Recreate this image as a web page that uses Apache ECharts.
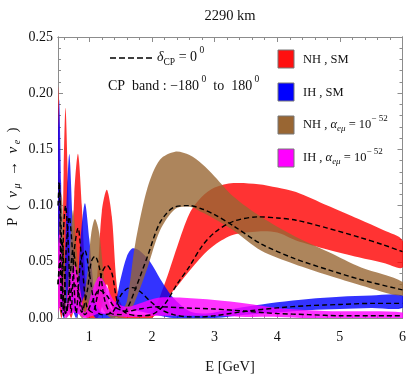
<!DOCTYPE html>
<html><head><meta charset="utf-8">
<script src="https://cdn.jsdelivr.net/npm/echarts@6/dist/echarts.min.js"></script>
<style>html,body{margin:0;padding:0;background:#fff}#c{width:409px;height:382px}</style>
</head><body><div id="c"></div>
<script>
// ---- axis ticks ----
const xTicks = [1, 2, 3, 4, 5, 6];
const xMinor = [0.6,0.8,1.2,1.4,1.6,1.8,2.2,2.4,2.6,2.8,3.2,3.4,3.6,3.8,4.2,4.4,4.6,4.8,5.2,5.4,5.6,5.8];
const yTicks = [0, 0.05, 0.10, 0.15, 0.20, 0.25];
const yTickLabels = ['0.00', '0.05', '0.10', '0.15', '0.20', '0.25'];
const yMinor = [0.01,0.02,0.03,0.04,0.06,0.07,0.08,0.09,0.11,0.12,0.13,0.14,0.16,0.17,0.18,0.19,0.21,0.22,0.23,0.24];

// ---- NH, SM (red) ----
const redE     = [0.50,0.52,0.555,0.59,0.62,0.66,0.71,0.76,0.82,0.88,0.96,1.05,1.13,1.20,1.28,1.36,1.46,1.60,1.80,2.00,2.20,2.40,2.60,2.80,3.00,3.30,3.70,4.00,4.30,4.80,5.30,5.70,6.00];
const redLow   = [0.02,0.01,0.0,0.01,0.03,0.01,0.0,0.01,0.03,0.01,0.0,0.0,0.0,0.01,0.03,0.01,0.0,0.0,0.0,0.0,0.015,0.028,0.042,0.055,0.065,0.074,0.077,0.076,0.069,0.061,0.054,0.049,0.045];
const redUp    = [0.205,0.18,0.01,0.13,0.187,0.12,0.01,0.11,0.146,0.10,0.02,0.01,0.04,0.095,0.114,0.09,0.02,0.005,0.003,0.005,0.03,0.063,0.093,0.108,0.116,0.12,0.119,0.116,0.112,0.10,0.088,0.078,0.069];
const redCP0   = [0.12,0.12,0.005,0.08,0.10,0.07,0.005,0.06,0.08,0.05,0.01,0.005,0.02,0.04,0.047,0.04,0.012,0.004,0.002,0.003,0.012,0.03,0.046,0.064,0.076,0.086,0.09,0.089,0.087,0.08,0.072,0.065,0.059];

// ---- IH, SM (blue) ----
const blueE    = [0.50,0.52,0.55,0.59,0.63,0.68,0.73,0.79,0.86,0.93,1.00,1.10,1.20,1.37,1.50,1.60,1.69,1.80,1.97,2.13,2.34,2.60,2.80,3.00,3.50,4.00,4.50,5.00,5.50,6.00];
const blueLow  = [0.02,0.03,0.01,0.0,0.01,0.03,0.01,0.0,0.01,0.02,0.01,0.0,0.0,0.0,0.003,0.006,0.008,0.006,0.004,0.002,0.0,0.0,0.0,0.0,0.003,0.005,0.007,0.008,0.009,0.009];
const blueUp   = [0.16,0.194,0.12,0.005,0.09,0.146,0.09,0.01,0.07,0.102,0.07,0.015,0.005,0.006,0.035,0.055,0.062,0.06,0.05,0.035,0.018,0.006,0.004,0.005,0.01,0.014,0.017,0.019,0.02,0.02];
const blueCP0  = [0.10,0.12,0.08,0.002,0.06,0.09,0.06,0.004,0.05,0.06,0.04,0.008,0.003,0.005,0.02,0.026,0.027,0.024,0.015,0.008,0.003,0.001,0.001,0.002,0.006,0.009,0.011,0.012,0.013,0.013];

// ---- NH, alpha_emu = 1e-52 (brown) ----
const brownE   = [0.50,0.53,0.56,0.60,0.64,0.69,0.74,0.80,0.88,0.97,1.03,1.09,1.16,1.25,1.35,1.50,1.60,1.73,1.93,2.13,2.37,2.60,2.80,3.00,3.30,3.74,4.27,4.81,5.34,6.00];
const brownLow = [0.01,0.02,0.03,0.01,0.0,0.01,0.02,0.01,0.0,0.005,0.015,0.02,0.015,0.005,0.0,0.0,0.002,0.015,0.045,0.078,0.097,0.099,0.094,0.088,0.078,0.06,0.048,0.038,0.029,0.02];
const brownUp  = [0.05,0.09,0.11,0.06,0.01,0.06,0.096,0.06,0.01,0.04,0.075,0.088,0.075,0.03,0.008,0.006,0.015,0.065,0.116,0.141,0.148,0.145,0.137,0.126,0.108,0.09,0.073,0.059,0.045,0.032];
const brownCP0 = [0.03,0.05,0.07,0.04,0.005,0.035,0.06,0.04,0.005,0.025,0.05,0.055,0.045,0.015,0.004,0.003,0.008,0.025,0.055,0.085,0.099,0.10,0.097,0.092,0.082,0.066,0.053,0.043,0.034,0.025];

// ---- IH, alpha_emu = 1e-52 (magenta) ----
const magE     = [0.50,0.53,0.57,0.62,0.69,0.76,0.84,0.93,1.05,1.16,1.28,1.40,1.60,1.80,2.10,2.50,3.00,3.50,4.00,4.50,5.00,6.00];
const magLow   = [0.005,0.01,0.005,0.0,0.003,0.005,0.003,0.0,0.002,0.004,0.003,0.002,0.001,0.001,0.002,0.002,0.002,0.001,0.001,0.0,0.0,0.0];
const magUp    = [0.06,0.078,0.05,0.01,0.035,0.047,0.03,0.005,0.025,0.037,0.028,0.015,0.01,0.013,0.018,0.018,0.016,0.013,0.009,0.007,0.006,0.005];
const magCP0   = [0.03,0.05,0.03,0.004,0.02,0.03,0.02,0.003,0.015,0.025,0.02,0.01,0.006,0.008,0.01,0.009,0.008,0.006,0.004,0.003,0.002,0.002];

const FF = '"Liberation Serif", "Times New Roman", serif';
const AX = '#8c8c8c';

function xAx(pos, vals, len, labels) {
  return {
    type: 'value', min: 0.5, max: 6, position: pos,
    axisLine: { show: true, onZero: false, lineStyle: { color: AX, width: 1 } },
    axisTick: { show: true, inside: true, length: len, customValues: vals, lineStyle: { color: AX } },
    axisLabel: labels ? { show: true, customValues: vals, margin: 12, fontFamily: FF, fontSize: 14, color: '#111' } : { show: false },
    splitLine: { show: false }
  };
}
function yAx(pos, vals, len, labels) {
  return {
    type: 'value', min: 0, max: 0.25, position: pos,
    axisLine: { show: true, onZero: false, lineStyle: { color: AX, width: 1 } },
    axisTick: { show: true, inside: true, length: len, customValues: vals, lineStyle: { color: AX } },
    axisLabel: labels ? { show: true, customValues: vals, margin: 5, fontFamily: FF, fontSize: 14, color: '#111',
      formatter: v => yTickLabels[yTicks.findIndex(t => Math.abs(t - v) < 1e-9)] } : { show: false },
    splitLine: { show: false }
  };
}

// band = filled polygon between lower and upper curve, positioned via api.coord
function band(E, lo, up, color) {
  return {
    type: 'custom', coordinateSystem: 'cartesian2d', xAxisIndex: 0, yAxisIndex: 0,
    clip: true, silent: true, z: 2,
    data: E.map((e, i) => [e, lo[i], up[i]]),
    encode: { x: 0, y: [1, 2] },
    renderItem: function (params, api) {
      if (params.dataIndex !== 0) return null;
      const pts = [];
      for (let i = 0; i < E.length; i++) pts.push(api.coord([E[i], up[i]]));
      for (let i = E.length - 1; i >= 0; i--) pts.push(api.coord([E[i], lo[i]]));
      return { type: 'polygon', shape: { points: pts, smooth: 0.3 },
               style: { fill: color, opacity: 0.8, stroke: 'none' } };
    }
  };
}
function dashed(E, d) {
  return { type: 'line', data: E.map((e, i) => [e, d[i]]), symbol: 'none', smooth: 0.3,
    lineStyle: { color: '#000', width: 1.4, type: [5, 3] }, silent: true, z: 5 };
}

// text helper: sequential runs measured with canvas
const ctx = document.createElement('canvas').getContext('2d');
function runs(x0, y0, parts) {
  let x = x0; const els = [];
  for (const p of parts) {
    const [t, s, dy, it] = p;
    const font = (it ? 'italic ' : '') + s + 'px ' + FF;
    ctx.font = font;
    els.push({ type: 'text', x: x, y: y0 + (dy || 0), silent: true, z: 100,
      style: { text: t, font: font, fill: '#111', textAlign: 'left', align: 'left', textVerticalAlign: 'middle', verticalAlign: 'middle' } });
    x += ctx.measureText(t).width;
  }
  return els;
}
function ctext(x, y, t, s) {
  return { type: 'text', x: x, y: y, silent: true, z: 100,
    style: { text: t, font: s + 'px ' + FF, fill: '#111', textAlign: 'center', align: 'center', textVerticalAlign: 'middle', verticalAlign: 'middle' } };
}
function swatch(y, color) {
  return { type: 'rect', shape: { x: 278, y: y, width: 16, height: 18 }, silent: true, z: 100,
    style: { fill: color, stroke: '#777', lineWidth: 1 } };
}

const LS = 12.5, LSS = 9;
const graphics = [].concat(
  [ctext(230, 16, '2290 km', 14.5), ctext(230, 367, 'E [GeV]', 14.5)],
  [{ type: 'group', x: 13, y: 226, rotation: Math.PI / 2, z: 100,
     children: runs(0, 0, [['P', 15], ['  (  ', 15], ['ν', 15, 0, true], [' μ', 10, 4, true], ['  →  ', 15], ['ν', 15, 0, true], [' e', 10, 4, true], ['  )', 15]]) }],
  [{ type: 'line', silent: true, z: 100, shape: { x1: 110, y1: 58, x2: 153, y2: 58 }, style: { stroke: '#000', lineWidth: 1.5, lineDash: [6, 3] } }],
  runs(157, 57, [['δ', 14, 0, true], ['CP', 9.5, 5], [' = 0', 14], [' 0', 9.5, -7]]),
  runs(108, 86, [['CP  band : −180', 14], [' 0', 9.5, -7], ['  to  180', 14], [' 0', 9.5, -7]]),
  [swatch(50, '#ff1010'), swatch(83, '#0000ff'), swatch(116, '#996633'), swatch(149, '#ff00ff')],
  runs(303, 60, [['NH , SM', LS]]),
  runs(303, 93, [['IH , SM', LS]]),
  runs(303, 125, [['NH , ', LS], ['α', LS, 0, true], ['eμ', LSS, 4, true], [' = 10', LS], ['− 52', LSS, -6]]),
  runs(303, 158, [['IH , ', LS], ['α', LS, 0, true], ['eμ', LSS, 4, true], [' = 10', LS], ['− 52', LSS, -6]])
);

const series = [
  band(redE, redLow, redUp, '#ff0000'),
  band(blueE, blueLow, blueUp, '#0000ff'),
  band(brownE, brownLow, brownUp, '#996633'),
  band(magE, magLow, magUp, '#ff00ff'),
  dashed(redE, redCP0), dashed(blueE, blueCP0), dashed(brownE, brownCP0), dashed(magE, magCP0)
];

const chart = echarts.init(document.getElementById('c'), null, { renderer: 'canvas' });
chart.setOption({
  animation: false,
  backgroundColor: '#fff',
  grid: { left: 58, right: 6, top: 37, bottom: 64, containLabel: false },
  xAxis: [xAx('bottom', xTicks, 5, true), xAx('bottom', xMinor, 3, false), xAx('top', xTicks, 5, false), xAx('top', xMinor, 3, false)],
  yAxis: [yAx('left', yTicks, 5, true), yAx('left', yMinor, 3, false), yAx('right', yTicks, 5, false), yAx('right', yMinor, 3, false)],
  series: series,
  graphic: graphics
});
</script></body></html>
